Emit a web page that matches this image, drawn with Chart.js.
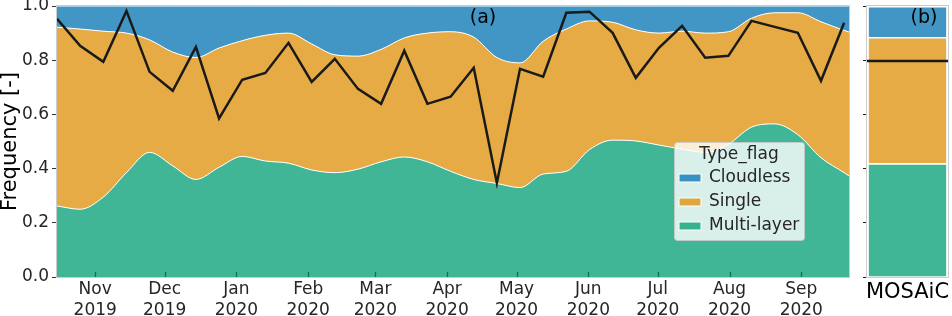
<!DOCTYPE html>
<html><head><meta charset="utf-8">
<script src="https://cdn.jsdelivr.net/npm/chart.js@4.4.1/dist/chart.umd.min.js"></script>
<style>
html,body{margin:0;padding:0;background:#fff;}
#wrap{position:relative;width:952px;height:316px;overflow:hidden;}
#ca{position:absolute;left:0;top:0;}
#cb{position:absolute;left:858px;top:0;}
</style></head><body>
<div id="wrap">
<canvas id="ca" width="860" height="316"></canvas>
<canvas id="cb" width="94" height="316"></canvas>
</div>
<script>
// ---- data (days counted from 1 Oct 2019) ----
const monthTickDays = [31,61,92,123,152,183,213,244,274,305,336];
const monthTickLabels = ['Nov','Dec','Jan','Feb','Mar','Apr','May','Jun','Jul','Aug','Sep'];
const monthTickYears = ['2019','2019','2020','2020','2020','2020','2020','2020','2020','2020','2020'];
const yTickValues = [0,0.2,0.4,0.6,0.8,1.0];
const xRange = [14.5, 356.6];

const periodDays = [14.5,24.5,34.5,44.5,54.5,64.5,74.5,84.5,94.5,104.5,114.5,124.5,134.5,144.5,154.5,164.5,174.5,184.5,194.5,204.5,214.5,224.5,234.5,244.5,254.5,264.5,274.5,284.5,294.5,304.5,314.5,324.5,334.5,344.5,354.5];
const areaDays = [14.5,24.5,34.5,44.5,54.5,64.5,74.5,84.5,94.5,104.5,114.5,124.5,134.5,144.5,154.5,164.5,174.5,184.5,194.5,204.5,214.5,224.5,234.5,244.5,254.5,264.5,274.5,284.5,294.5,304.5,314.5,324.5,334.5,344.5,354.5,356.6];

const seriesNames = ['Cloudless','Single','Multi-layer'];
const multiLayer = [0.262,0.250,0.295,0.385,0.460,0.410,0.360,0.405,0.445,0.428,0.420,0.395,0.385,0.398,0.425,0.443,0.425,0.390,0.360,0.345,0.330,0.380,0.390,0.470,0.505,0.502,0.487,0.472,0.460,0.490,0.553,0.565,0.525,0.440,0.385,0.373];
const single = [0.660,0.665,0.612,0.515,0.415,0.420,0.450,0.440,0.427,0.464,0.480,0.465,0.435,0.417,0.415,0.439,0.475,0.515,0.525,0.465,0.460,0.490,0.525,0.475,0.435,0.410,0.413,0.435,0.440,0.415,0.402,0.410,0.450,0.502,0.525,0.531];
const cloudless = [0.078,0.085,0.093,0.100,0.125,0.170,0.190,0.155,0.128,0.108,0.100,0.140,0.180,0.185,0.160,0.118,0.100,0.095,0.115,0.190,0.210,0.130,0.085,0.055,0.060,0.088,0.100,0.093,0.100,0.095,0.045,0.025,0.025,0.058,0.090,0.096];
const lineValues = [0.953,0.853,0.794,0.982,0.757,0.687,0.849,0.585,0.728,0.753,0.864,0.720,0.805,0.694,0.639,0.835,0.639,0.665,0.772,0.347,0.768,0.739,0.975,0.979,0.901,0.735,0.846,0.927,0.809,0.816,0.945,0.923,0.901,0.724,0.938];

const mosaicCategories = ['MOSAiC'];
const mosaicMulti = [0.420];
const mosaicSingle = [0.466];
const mosaicCloudless = [0.114];
const mosaicLine = 0.797;

// ---- styling ----
Chart.defaults.font.family = "'DejaVu Sans', sans-serif";
Chart.defaults.color = '#262626';
const colors = {
  'Cloudless': 'rgba(1,115,178,0.75)',
  'Single': 'rgba(222,143,5,0.75)',
  'Multi-layer': 'rgba(2,158,115,0.75)'
};
const pts = (xs, ys) => ys.map((v, i) => ({x: xs[i], y: v}));

const areaDs = (name, vals, fill) => ({
  type: 'line', label: name, data: pts(areaDays, vals), stack: 'types',
  backgroundColor: colors[name], borderColor: '#ffffff', borderWidth: 1,
  fill: fill, pointRadius: 0, cubicInterpolationMode: 'monotone'
});

const panelA = {
  id: 'panelA',
  beforeDatasetsDraw(chart) {
    const {ctx, chartArea: a, scales: {x}} = chart;
    ctx.save();
    ctx.strokeStyle = '#000'; ctx.lineWidth = 1.3;
    monthTickDays.forEach(d => {
      const px = Math.round(x.getPixelForValue(d)) + 0.5;
      ctx.beginPath(); ctx.moveTo(px, a.bottom); ctx.lineTo(px, a.bottom - 5); ctx.stroke();
    });
    ctx.restore();
  },
  afterDraw(chart) {
    const {ctx, chartArea: a} = chart;
    ctx.save();
    ctx.strokeStyle = '#cccccc'; ctx.lineWidth = 1;
    ctx.strokeRect(a.left - 0.5, a.top - 0.5, a.right - a.left + 1, a.bottom - a.top + 1);
    ctx.fillStyle = '#000'; ctx.font = "19px 'DejaVu Sans'";
    ctx.textAlign = 'center'; ctx.textBaseline = 'middle';
    ctx.fillText('(a)', 483, 18);
    const lx = 674, ly = 142, lw = 130, lh = 98;
    ctx.beginPath(); ctx.roundRect(lx + 0.5, ly + 0.5, lw, lh, 3);
    ctx.fillStyle = 'rgba(255,255,255,0.8)'; ctx.fill();
    ctx.strokeStyle = 'rgba(204,204,204,0.8)'; ctx.stroke();
    ctx.fillStyle = '#262626'; ctx.font = "17px 'DejaVu Sans'";
    ctx.fillText('Type_flag', lx + lw / 2, 155);
    ctx.textAlign = 'left';
    seriesNames.forEach((name, k) => {
      const cy = 178 + k * 24;
      const ds = chart.data.datasets.find(d => d.label === name);
      ctx.fillStyle = ds.backgroundColor;
      ctx.fillRect(679, cy - 4, 22, 8);
      ctx.strokeStyle = '#fff'; ctx.lineWidth = 1;
      ctx.strokeRect(679, cy - 4, 22, 8);
      ctx.fillStyle = '#262626';
      ctx.fillText(name, 709, cy);
    });
    ctx.restore();
  }
};

new Chart(document.getElementById('ca'), {
  data: {
    datasets: [
      {type: 'line', label: 'line', data: pts(periodDays, lineValues), stack: 'line',
       borderColor: '#1a1a1a', borderWidth: 2.5, pointRadius: 0, fill: false, tension: 0},
      areaDs('Multi-layer', multiLayer, 'origin'),
      areaDs('Single', single, '-1'),
      areaDs('Cloudless', cloudless, '-1')
    ]
  },
  options: {
    responsive: false, animation: false, devicePixelRatio: 1,
    layout: {padding: {left: 0, right: 11, top: 6, bottom: 0}},
    plugins: {legend: {display: false}, tooltip: {enabled: false}},
    scales: {
      x: {
        type: 'linear', min: xRange[0], max: xRange[1],
        border: {display: false},
        grid: {display: false, drawTicks: false},
        afterBuildTicks: ax => { ax.ticks = monthTickDays.map(v => ({value: v})); },
        ticks: {
          autoSkip: false, maxRotation: 0, padding: 2,
          font: {size: 17, lineHeight: 1.24}, color: '#262626',
          callback: v => { const i = monthTickDays.indexOf(v); return i < 0 ? '' : [monthTickLabels[i], monthTickYears[i]]; }
        },
        afterFit: ax => { ax.height = 39; ax.paddingLeft = 0; ax.paddingRight = 0; }
      },
      y: {
        stacked: true, min: 0, max: 1,
        border: {display: false},
        grid: {drawOnChartArea: false, drawTicks: true, tickLength: 5, color: '#333', lineWidth: 1},
        afterBuildTicks: ax => { ax.ticks = yTickValues.map(v => ({value: v})); },
        ticks: {padding: 3, font: {size: 17}, color: '#262626', callback: v => Number(v).toFixed(1)},
        title: {display: true, text: 'Frequency [-]', font: {size: 21, lineHeight: 1}, color: '#000', padding: 0},
        afterFit: ax => { ax.width = 57; ax.paddingTop = 0; ax.paddingBottom = 0; }
      }
    }
  },
  plugins: [panelA]
});

const panelB = {
  id: 'panelB',
  afterDatasetsDraw(chart) {
    const {ctx, chartArea: a, scales: {y}} = chart;
    const py = y.getPixelForValue(mosaicLine);
    ctx.save();
    ctx.strokeStyle = '#1a1a1a'; ctx.lineWidth = 2.5;
    ctx.beginPath(); ctx.moveTo(a.left, py); ctx.lineTo(a.right, py); ctx.stroke();
    ctx.restore();
  },
  afterDraw(chart) {
    const {ctx, chartArea: a} = chart;
    ctx.save();
    ctx.strokeStyle = '#cccccc'; ctx.lineWidth = 1;
    ctx.strokeRect(a.left - 0.5, a.top - 0.5, a.right - a.left + 1, a.bottom - a.top + 1);
    ctx.fillStyle = '#000'; ctx.font = "19px 'DejaVu Sans'";
    ctx.textAlign = 'center'; ctx.textBaseline = 'middle';
    ctx.fillText('(b)', 66, 18);
    ctx.restore();
  }
};

const barDs = (name, vals) => ({
  label: name, data: vals, stack: 'types',
  backgroundColor: colors[name], borderColor: '#ffffff',
  borderWidth: {top: 1.5, bottom: 0, left: 0, right: 0}, borderSkipped: false,
  barPercentage: 0.96, categoryPercentage: 1
});

new Chart(document.getElementById('cb'), {
  type: 'bar',
  data: {
    labels: mosaicCategories,
    datasets: [
      barDs('Multi-layer', mosaicMulti),
      barDs('Single', mosaicSingle),
      barDs('Cloudless', mosaicCloudless)
    ]
  },
  options: {
    responsive: false, animation: false, devicePixelRatio: 1,
    layout: {padding: {left: 0, right: 4, top: 6, bottom: 0}},
    plugins: {legend: {display: false}, tooltip: {enabled: false}},
    scales: {
      x: {
        stacked: true, border: {display: false},
        grid: {display: false, drawTicks: false},
        ticks: {padding: 3, font: {size: 21}, color: '#000'},
        afterFit: ax => { ax.height = 39; ax.paddingLeft = 0; ax.paddingRight = 0; }
      },
      y: {
        stacked: true, min: 0, max: 1, border: {display: false},
        grid: {drawOnChartArea: false, drawTicks: true, tickLength: 4, color: '#222'},
        afterBuildTicks: ax => { ax.ticks = yTickValues.map(v => ({value: v})); },
        ticks: {display: false},
        afterFit: ax => { ax.width = 9; ax.paddingTop = 0; ax.paddingBottom = 0; }
      }
    }
  },
  plugins: [panelB]
});
</script>
</body></html>
